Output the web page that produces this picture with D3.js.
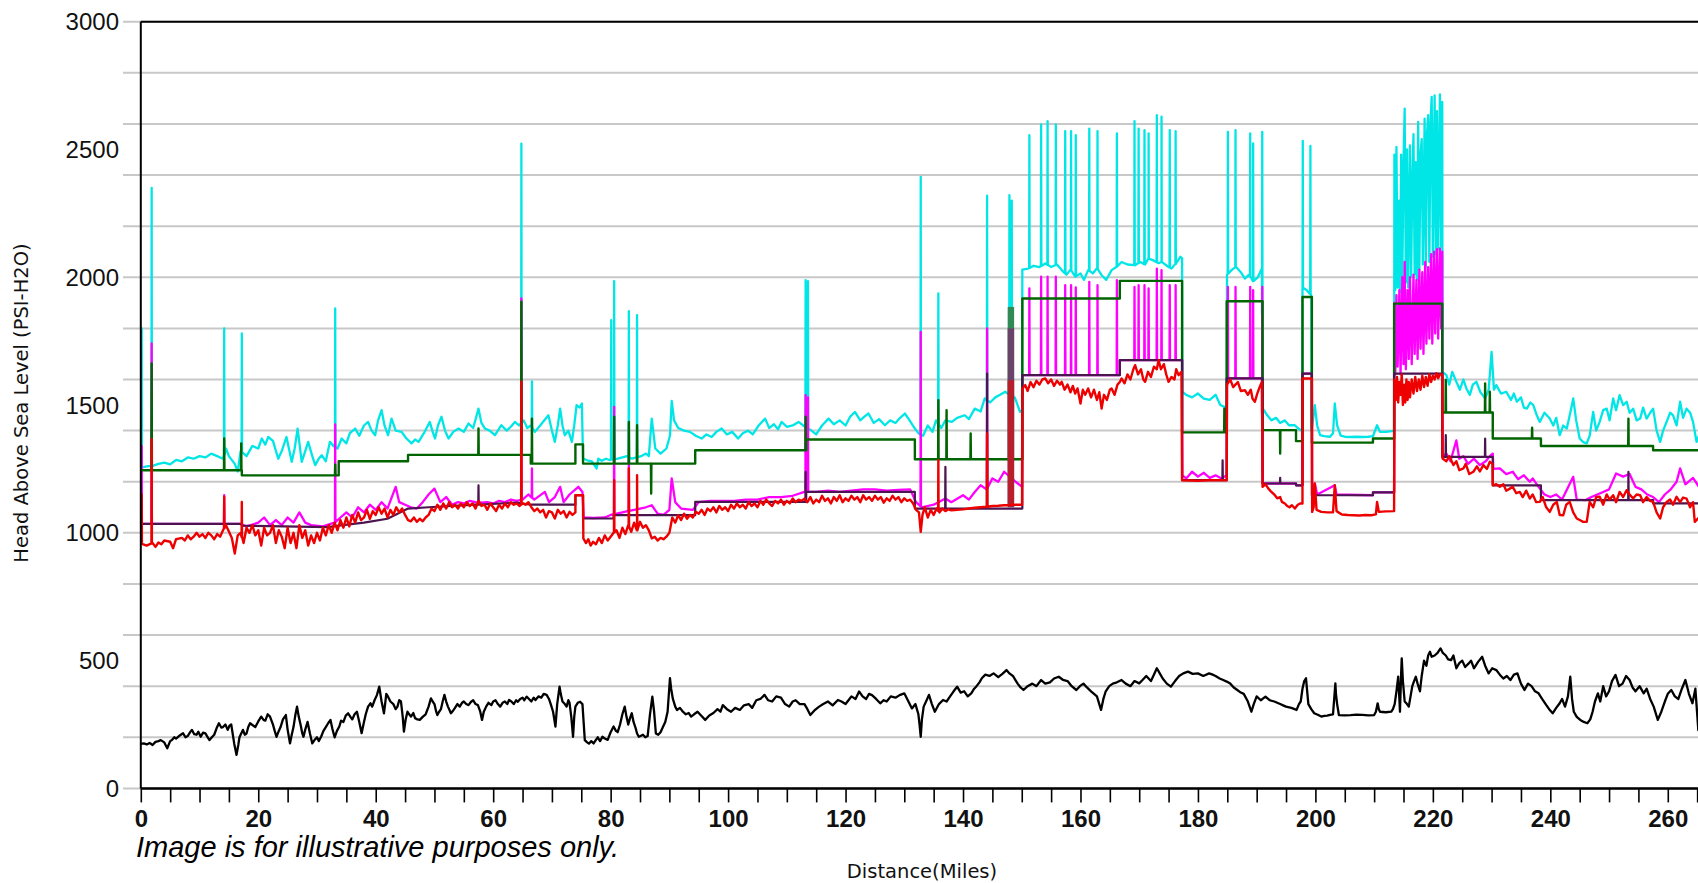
<!DOCTYPE html>
<html><head><meta charset="utf-8">
<script src="https://cdn.jsdelivr.net/npm/d3@7"></script>
<style>html,body{margin:0;padding:0;background:#fff;}svg{display:block;}</style>
</head><body>
<svg id="chart" width="1698" height="883"></svg>
<script>
// ---------------- DATA ----------------
const yGridValues = d3.range(0, 3001, 200);
const yTickLabels = [0, 500, 1000, 1500, 2000, 2500, 3000];
const xMinorTicks = d3.range(0, 276, 5);
const xTickLabels = [0, 20, 40, 60, 80, 100, 120, 140, 160, 180, 200, 220, 240, 260];

// ground elevation (black)
const elevation = [[0,174],[0.5,176],[1,172],[1.5,178],[2,170],[2.5,182],[3,185],[3.4,189],[4,180],[4.5,157],[5,185],[5.3,189],[5.7,200],[6,195],[6.5,205],[7.2,216],[7.6,200],[8,205],[8.4,220],[8.7,229],[9.1,212],[9.5,210],[9.8,222],[10.2,202],[10.6,218],[11,215],[11.4,200],[11.7,189],[12.1,200],[12.5,210],[12.9,235],[13.3,255],[13.7,238],[14,240],[14.4,250],[14.8,229],[15.1,245],[15.4,250],[15.9,176],[16.3,131],[16.6,170],[16.8,200],[17.1,215],[17.4,229],[17.7,210],[18,215],[18.3,240],[18.6,255],[19,248],[19.5,240],[20,262],[20.5,281],[20.9,268],[21.2,265],[21.6,290],[22,281],[22.3,262],[22.5,250],[22.8,225],[23.1,202],[23.5,225],[23.8,240],[24.2,270],[24.7,287],[25,230],[25.4,176],[25.7,210],[26,240],[26.3,285],[26.6,320],[26.9,280],[27.2,250],[27.5,215],[27.7,202],[28,230],[28.4,260],[28.8,215],[29.2,176],[29.6,190],[30,200],[30.3,185],[30.7,202],[31.1,225],[31.5,240],[31.9,255],[32.3,268],[32.6,235],[33,200],[33.4,225],[33.8,242],[34.1,265],[34.5,260],[34.9,285],[35.3,294],[35.7,280],[36,270],[36.4,290],[36.8,300],[37.2,260],[37.6,216],[38,260],[38.3,290],[38.7,320],[39.1,333],[39.4,320],[39.8,345],[40.2,365],[40.6,398],[41,340],[41.4,294],[41.6,330],[41.8,370],[42.1,359],[42.5,340],[43,330],[43.4,310],[43.7,320],[44,345],[44.3,340],[44.6,280],[44.8,222],[45.1,270],[45.4,300],[45.7,290],[46,281],[46.4,295],[46.7,275],[47.1,270],[47.5,268],[48,280],[48.5,290],[49,320],[49.4,352],[49.7,340],[50,330],[50.3,300],[50.5,287],[50.8,300],[51.1,310],[51.4,340],[51.7,366],[52,340],[52.3,320],[52.6,305],[52.8,294],[53.2,305],[53.5,315],[53.9,330],[54.3,320],[54.7,335],[55,340],[55.4,330],[55.8,326],[56.2,338],[56.6,345],[57,330],[57.4,326],[57.8,300],[58.1,268],[58.4,300],[58.8,320],[59.2,335],[59.7,326],[60,340],[60.4,345],[60.8,330],[61.2,320],[61.6,335],[62,340],[62.4,330],[62.7,346],[63.1,340],[63.5,330],[63.9,345],[64.2,339],[64.6,350],[65,355],[65.3,345],[65.7,359],[66.1,350],[66.5,340],[66.9,355],[67.2,346],[67.7,360],[68.2,355],[68.6,370],[69.1,366],[69.5,350],[69.8,330],[70.2,300],[70.6,242],[70.9,330],[71.3,398],[71.5,370],[71.8,340],[72.2,330],[72.5,320],[72.8,345],[73,335],[73.3,280],[73.6,202],[73.8,280],[74,320],[74.4,335],[74.8,339],[75.2,330],[75.4,260],[75.6,189],[76,180],[76.3,175],[76.7,185],[77.1,176],[77.5,190],[77.8,200],[78.2,185],[78.6,202],[79,195],[79.5,190],[80,220],[80.5,242],[80.9,225],[81.2,220],[81.6,250],[82,290],[82.4,320],[82.7,280],[83,250],[83.3,275],[83.6,294],[83.9,260],[84.2,240],[84.5,215],[84.8,202],[85.1,205],[85.5,210],[85.9,200],[86.3,205],[86.7,290],[87.1,359],[87.4,300],[87.7,215],[88.1,210],[88.5,220],[88.9,240],[89.3,260],[89.7,300],[90.1,431],[90.3,390],[90.6,350],[91,320],[91.3,307],[91.8,315],[92.3,300],[92.8,290],[93.3,295],[93.7,281],[94.2,290],[94.8,300],[95.4,285],[96.1,268],[96.8,285],[97.5,295],[98.2,310],[98.7,300],[99.1,326],[99.8,310],[100.5,300],[101.2,315],[102,307],[102.7,325],[103.5,330],[104.1,315],[104.8,345],[105.5,350],[106.2,366],[106.8,345],[107.5,340],[108.2,360],[109,355],[109.7,330],[110.4,320],[111,340],[111.5,345],[112.2,330],[113,330],[113.5,310],[114,287],[114.7,305],[115.5,320],[116.2,330],[117,340],[117.8,325],[118.7,346],[119.3,340],[120,330],[120.5,345],[121,360],[121.7,350],[122.3,379],[122.9,360],[123.5,350],[124,370],[124.5,365],[125.2,350],[125.9,333],[126.5,345],[127,340],[127.7,360],[128.5,355],[129.2,365],[130,372],[130.6,345],[131.3,313],[131.9,330],[132.4,290],[132.6,250],[132.8,202],[133,270],[133.3,320],[133.8,345],[134.2,366],[134.7,330],[135.2,300],[135.9,330],[136.6,346],[137.2,340],[137.8,360],[138.4,380],[139,398],[139.6,375],[140.2,380],[140.8,360],[141.4,372],[141.9,390],[142.3,400],[142.8,415],[143.2,431],[143.8,445],[144.5,440],[145.2,450],[146,435],[146.7,448],[147.4,463],[147.9,450],[148.5,440],[148.9,425],[149.3,410],[149.8,395],[150.3,385],[151,400],[151.8,410],[152.5,400],[153.3,424],[154,410],[154.8,415],[155.5,430],[156.3,437],[157,425],[157.8,420],[158.5,400],[159.3,385],[159.9,400],[160.5,410],[161.1,395],[161.8,380],[162.3,370],[162.8,360],[163.2,330],[163.5,307],[163.9,350],[164.3,380],[164.9,400],[165.5,410],[166.2,415],[167,424],[167.7,410],[168.5,400],[169.2,420],[170,411],[170.6,425],[171.2,440],[171.6,430],[172,420],[172.5,445],[173,470],[173.5,450],[174,430],[174.7,410],[175.4,398],[176.1,420],[176.8,440],[177.5,450],[178.3,457],[179.1,448],[180,450],[180.9,440],[181.9,450],[182.5,445],[183,440],[183.7,430],[184.3,424],[184.9,418],[185.5,410],[186.1,395],[186.7,385],[187.3,375],[187.8,370],[188.5,340],[189.1,300],[189.5,330],[190,360],[190.7,345],[191.5,359],[192.2,345],[193,340],[193.5,335],[194,330],[194.5,325],[195,320],[195.9,315],[196.8,307],[197.2,330],[197.5,340],[197.8,390],[198.1,420],[198.4,431],[198.6,380],[198.8,330],[199.3,310],[199.8,294],[200.4,288],[201,281],[201.5,284],[202,285],[202.5,288],[203,290],[203.2,350],[203.4,411],[203.5,370],[203.7,330],[204,287],[205,286],[206,287],[207,289],[208,288],[209,286],[210,287],[210.3,300],[210.6,333],[210.8,310],[211,300],[212,298],[212.9,300],[213.2,310],[213.5,330],[213.8,380],[214.1,437],[214.3,350],[214.4,300],[214.6,450],[214.7,509],[214.9,420],[215.2,340],[215.6,330],[215.9,320],[216.2,360],[216.5,400],[216.8,420],[217.1,437],[217.4,410],[217.8,380],[218.1,440],[218.5,500],[218.9,480],[219.2,520],[219.5,535],[219.8,515],[220.3,520],[220.8,530],[221.3,548],[221.7,530],[222.2,520],[222.6,505],[223.1,502],[223.5,520],[224,470],[224.5,490],[225,500],[225.5,475],[226.1,489],[226.5,500],[227,470],[227.7,495],[228.4,515],[228.9,480],[229.5,450],[230.1,470],[230.8,463],[231.4,445],[232,430],[232.6,440],[233.2,424],[233.8,445],[234.4,450],[235,410],[235.6,385],[236.2,410],[236.8,400],[237.4,380],[238,372],[238.6,350],[239.2,330],[239.8,310],[240.4,294],[241,315],[241.5,330],[242,350],[242.5,320],[243,360],[243.4,437],[243.7,350],[244,300],[244.5,280],[245.1,268],[245.7,260],[246.3,255],[246.8,270],[247.2,300],[247.6,340],[248.1,372],[248.5,340],[249,400],[249.5,360],[250,380],[250.5,420],[251.1,444],[251.7,400],[252.3,410],[252.9,440],[253.5,424],[254,395],[254.5,380],[255.2,400],[255.9,372],[256.4,390],[257,350],[257.6,320],[258.3,268],[258.9,300],[259.5,340],[260,370],[260.6,385],[261.2,360],[261.8,350],[262.4,390],[263,424],[263.6,370],[264.2,333],[264.7,390],[265.2,228],[266,240]];

// maximum head (cyan)
const headMax = [[0,1255],[1,1260],[2,1262],[3,1270],[4,1275],[5,1268],[6,1285],[7,1280],[8,1295],[9,1290],[10,1300],[11,1295],[12,1310],[13,1300],[14,1290],[14.5,1330],[15,1300],[16,1270],[16.5,1240],[17,1320],[18,1300],[19,1340],[20,1330],[20.6,1369],[21.2,1345],[21.7,1375],[22.5,1360],[23.4,1290],[24,1320],[24.8,1375],[25.7,1278],[26.2,1330],[26.7,1408],[27.4,1278],[28,1320],[28.5,1356],[29.2,1300],[29.7,1265],[30.3,1290],[30.8,1304],[31.5,1280],[32.2,1356],[32.8,1340],[33.5,1330],[34.2,1369],[35,1350],[35.6,1390],[36.5,1408],[37.2,1380],[38,1420],[38.7,1434],[39.3,1400],[39.9,1382],[40.4,1440],[41,1480],[41.5,1420],[42.1,1382],[42.7,1447],[43.4,1400],[44.4,1395],[45.2,1370],[46.1,1350],[46.7,1365],[47.3,1356],[48.2,1390],[49.2,1434],[49.7,1395],[50.1,1369],[50.6,1420],[51.2,1454],[51.8,1400],[52.4,1369],[53.2,1395],[54.1,1408],[55,1395],[55.8,1428],[56.6,1410],[57.5,1486],[58,1430],[58.6,1408],[59.4,1400],[60.3,1382],[61.4,1421],[62.3,1400],[63,1415],[63.7,1434],[64.4,1420],[65.2,1440],[65.8,1410],[66.4,1420],[67.1,1395],[68,1420],[69.4,1460],[70,1400],[70.5,1356],[71,1420],[71.4,1486],[71.8,1420],[72.2,1382],[72.8,1400],[73.4,1356],[73.8,1420],[74.2,1500],[74.7,1490],[75.1,1506],[75.3,1291],[76,1284],[76.8,1280],[77.6,1252],[77.9,1290],[78.5,1282],[79.2,1290],[79.8,1285],[81.2,1290],[82,1295],[82.8,1300],[83.6,1290],[85.2,1300],[86,1310],[86.5,1300],[87,1447],[87.6,1330],[88.5,1310],[89.5,1330],[90.1,1380],[90.4,1516],[90.8,1440],[91.5,1410],[92.5,1400],[93.5,1395],[94.5,1380],[95.5,1369],[96.3,1385],[97.2,1375],[98,1395],[98.9,1408],[99.8,1385],[100.7,1395],[101.7,1369],[102.5,1390],[103.4,1400],[104.2,1385],[105.2,1420],[106.3,1447],[107,1410],[107.8,1425],[108.5,1405],[109.1,1434],[110,1415],[111,1420],[112,1434],[112.8,1420],[114.2,1400],[115,1385],[116,1420],[117.1,1447],[118,1425],[119,1440],[120,1420],[120.8,1455],[121.6,1473],[122.5,1440],[123.2,1455],[123.9,1467],[124.8,1430],[125.7,1445],[126.7,1421],[127.6,1440],[128.5,1430],[129.3,1450],[130.1,1467],[130.9,1440],[131.8,1408],[132.4,1390],[133.2,1380],[134,1420],[134.8,1395],[135.4,1440],[136.3,1410],[137,1440],[138.1,1434],[139,1450],[140.3,1460],[141,1445],[142,1486],[143,1475],[143.7,1526],[144.6,1510],[145.5,1530],[146.3,1540],[147.2,1552],[147.6,1545],[148.8,1530],[149.3,1500],[149.7,1473],[150.05,1480],[150.1,2030],[151.1,2034],[152,2045],[153,2040],[154,2054],[155,2040],[156,2050],[156.8,2028],[157.6,2010],[158.3,2030],[159.1,2002],[160,2015],[160.6,1990],[161.3,2028],[162.1,2015],[162.8,2035],[163.6,2008],[164.4,1990],[165.3,2028],[166.1,2040],[167,2060],[168,2050],[169.3,2047],[170.2,2060],[171,2050],[171.6,2073],[172.5,2065],[173.3,2055],[173.8,2060],[174.7,2045],[175.5,2034],[176.3,2055],[177,2080],[177.3,2075],[177.35,1552],[178,1540],[179,1530],[180,1545],[181,1525],[182,1520],[183,1540],[183.8,1500],[184.5,1493],[184.9,1495],[184.95,2010],[185.8,2030],[186.5,2040],[187.3,2020],[188,1995],[188.7,2010],[189.4,1985],[190.2,2000],[190.9,2035],[191.05,1486],[191.8,1460],[192.5,1440],[193.3,1450],[194,1430],[194.8,1440],[195.5,1421],[196.5,1421],[197,1410],[197.6,1400],[197.8,1400],[197.8,1960],[198.5,1950],[199.3,1930],[199.35,1400],[199.9,1500],[200.3,1420],[200.8,1382],[201.5,1378],[202.5,1376],[203,1390],[203.3,1506],[203.7,1420],[204.3,1380],[205,1376],[206,1375],[207,1376],[208,1375],[209,1376],[209.8,1378],[210.5,1421],[211,1395],[212,1395],[213,1398],[213.4,1400],[213.45,2480],[213.6,1950],[213.8,2510],[214,1960],[214.2,2300],[214.4,1940],[214.6,2480],[214.8,1990],[215,2450],[215.2,2660],[215.4,1980],[215.6,2500],[215.8,1960],[216.1,2516],[216.3,2000],[216.5,2380],[216.7,2560],[216.9,2010],[217.1,2450],[217.3,1990],[217.5,2608],[217.7,2030],[217.9,2480],[218.1,2540],[218.3,2050],[218.6,2621],[218.8,2040],[219,2560],[219.2,2634],[219.4,2060],[219.6,2600],[219.8,2706],[220,2080],[220.3,2712],[220.5,2090],[220.7,2650],[220.9,2110],[221.2,2716],[221.4,2120],[221.6,2686],[221.65,1630],[222.3,1617],[222.8,1580],[223.3,1630],[224,1591],[224.6,1560],[225.2,1600],[225.7,1565],[226.3,1540],[226.8,1580],[227.4,1591],[228.1,1550],[228.9,1526],[229.5,1560],[230,1708],[230.4,1560],[230.8,1578],[231.6,1545],[232.5,1552],[233.3,1520],[233.8,1545],[234.3,1513],[235,1530],[235.5,1490],[236,1486],[236.6,1510],[237.1,1500],[237.7,1460],[238.2,1434],[239,1470],[239.9,1447],[240.5,1420],[241,1450],[241.6,1382],[242.2,1420],[242.8,1408],[243.4,1470],[243.9,1526],[244.4,1440],[245,1369],[245.6,1355],[246.2,1350],[246.7,1380],[247.3,1473],[247.8,1400],[248.4,1434],[249,1480],[249.6,1486],[250.1,1440],[250.7,1526],[251.2,1480],[251.8,1539],[252.4,1500],[253,1513],[253.5,1470],[254.1,1486],[254.7,1440],[255.3,1447],[255.8,1490],[256.4,1447],[257,1470],[257.5,1486],[258.1,1400],[258.7,1356],[259.2,1400],[259.8,1434],[260.4,1470],[260.9,1460],[261.5,1420],[262.1,1513],[262.6,1450],[263.2,1486],[263.8,1470],[264.3,1434],[264.9,1356],[265.3,1380],[266,1400]];
const headMaxSpikes = [[0.15,1800],[1.85,2350],[14.2,1800],[17.2,1780],[33.1,1878],[64.8,2523],[66.6,1593],[80.1,1832],[80.6,1985],[83.1,1867],[84.5,1852],[113.2,1989],[113.6,1985],[132.8,2393],[135.8,1937],[144.1,2319],[147.9,2321],[148.3,2300],[151.3,2556],[153.3,2598],[154.4,2611],[155.8,2598],[157.4,2572],[158.4,2572],[159.2,2556],[161.5,2582],[162.9,2572],[166.2,2563],[169.2,2611],[169.9,2582],[170.9,2576],[171.6,2563],[173,2634],[173.8,2628],[175.2,2576],[176.2,2572],[185.1,2569],[186.4,2576],[188.9,2563],[189.4,2524],[190.95,2569],[197.85,2534],[199.15,2514]];

// surge head (magenta)
const headSurge = [[0,1035],[17,1035],[18,1025],[20,1040],[21,1060],[22,1030],[23,1050],[24,1030],[25,1060],[26,1040],[27,1080],[28,1040],[29,1030],[31,1025],[33,1040],[34,1060],[35,1080],[36,1060],[37,1100],[38,1080],[39,1110],[40,1090],[41,1120],[42,1095],[43.4,1180],[44,1120],[45,1110],[46,1100],[47,1095],[48,1120],[49,1150],[50,1173],[51,1120],[52,1140],[53,1110],[54,1120],[55,1115],[56,1125],[57,1120],[58,1118],[59,1120],[60,1115],[61,1125],[62,1120],[63,1130],[64,1125],[65,1130],[66,1150],[67,1130],[68.8,1160],[69.5,1120],[70.5,1140],[71.4,1180],[72,1120],[73,1150],[74.5,1180],[75.2,1160],[75.4,1060],[77,1058],[79,1060],[80,1070],[82,1080],[84,1090],[86,1100],[87,1108],[88,1075],[89,1070],[90,1090],[90.4,1213],[91,1120],[92,1095],[94,1090],[95,1120],[97,1125],[99,1125],[101,1125],[103,1130],[105,1130],[107,1140],[109,1140],[111,1145],[113,1160],[115,1160],[117,1165],[119,1160],[121,1165],[123,1170],[125,1170],[127,1165],[129,1168],[131,1170],[132,1120],[133,1100],[135,1110],[137,1134],[138,1120],[140,1147],[141,1130],[142,1160],[143,1186],[144,1170],[145,1213],[146,1200],[147,1239],[148,1220],[149,1199],[150.05,1180],[150.1,1617],[166.7,1617],[166.7,1676],[177.3,1676],[177.35,1225],[178,1213],[179,1239],[180,1220],[181,1235],[182,1215],[183,1225],[184,1213],[184.9,1225],[184.95,1604],[190.9,1604],[191.05,1193],[196.7,1193],[196.7,1186],[197.8,1186],[197.8,1623],[199.4,1623],[199.45,1147],[199.9,1193],[200.3,1150],[203.3,1186],[203.6,1150],[209.8,1147],[209.8,1158],[213.4,1158],[213.45,1900],[213.6,1620],[213.8,1930],[214,1650],[214.3,1950],[214.5,1620],[214.8,2000],[215,1660],[215.2,2060],[215.4,1640],[215.7,1950],[215.9,1680],[216.1,2000],[216.4,1660],[216.7,2010],[216.9,1700],[217.2,1990],[217.4,1680],[217.7,2030],[217.9,1720],[218.2,2020],[218.4,1700],[218.7,2060],[218.9,1740],[219.2,2040],[219.4,1760],[219.7,2090],[219.9,1740],[220.2,2100],[220.4,1780],[220.7,2110],[220.9,1760],[221.2,2113],[221.4,1800],[221.6,2100],[221.65,1300],[222.3,1310],[223,1280],[224,1362],[224.5,1290],[225.2,1300],[226,1270],[227,1290],[228,1265],[229,1280],[229.7,1300],[230.2,1310],[230.3,1250],[231.4,1252],[232.5,1230],[233.6,1239],[234.5,1210],[235.5,1225],[236.5,1200],[237,1213],[238,1180],[239,1150],[240,1140],[241,1150],[242,1130],[243.9,1219],[244.5,1130],[246,1128],[247,1140],[248,1150],[249,1160],[250,1170],[251.2,1232],[252.4,1220],[253.5,1230],[254.5,1180],[255.5,1170],[256.5,1150],[257.5,1140],[258.5,1120],[259.5,1150],[260.5,1170],[261.5,1200],[262.1,1252],[263,1190],[264.3,1215],[265.3,1180],[266,1170]];
const headSurgeSpikes = [[0.15,1340],[1.85,1741],[14.2,1147],[33.1,1424],[64.8,1917],[66.6,1252],[80.6,1493],[83.1,1291],[113.2,1539],[113.6,1530],[132.8,1786],[144.1,1800],[147.9,1800],[151.3,1956],[153.3,2002],[154.4,2002],[155.8,2002],[157.4,1969],[158.4,1969],[159.2,1960],[161.5,1982],[162.9,1969],[166.2,1989],[169.2,1962],[169.9,1969],[170.9,1969],[171.6,1956],[173,2034],[173.8,2028],[175.2,1969],[176.2,1969],[185.1,1962],[186.4,1962],[188.9,1962],[189.4,1950],[190.95,1962]];

// MAOP head (dark green, stepped)
const headMaop = [[0,1245],[17.2,1245],[17.2,1225],[33.7,1225],[33.7,1280],[45.5,1280],[45.5,1305],[66.4,1305],[66.4,1271],[74,1271],[74,1346],[75.3,1346],[75.3,1271],[94.4,1271],[94.4,1323],[113.3,1323],[113.3,1365],[131.8,1365],[131.8,1288],[150.1,1288],[150.1,1917],[166.7,1917],[166.7,1986],[177.3,1986],[177.3,1393],[184.9,1393],[184.9,1906],[191,1906],[191,1402],[196.7,1402],[196.7,1359],[197.8,1359],[197.8,1923],[199.4,1923],[199.4,1353],[209.8,1353],[209.8,1369],[213.4,1369],[213.4,1897],[221.6,1897],[221.6,1471],[230.2,1471],[230.2,1369],[238.4,1369],[238.4,1340],[257.5,1340],[257.5,1323],[266,1323]];
const headMaopSpikes = [[1.85,1663],[14.2,1369],[17.1,1350],[33.1,1267],[57.5,1408],[64.8,1904],[66.6,1447],[80.6,1454],[83.1,1434],[84.5,1421],[86.9,1154],[113.2,1454],[135.8,1519],[137.2,1480],[141.3,1389],[184.5,1486],[194,1310],[222.2,1598],[228.9,1585],[229.7,1552],[236.9,1411],[253.3,1447]];

// steady-state head (dark purple)
const headSteady = [[0,1035],[17.2,1035],[17.2,1028],[31.9,1022],[33.7,1028],[38,1040],[42,1055],[45.5,1095],[49,1100],[57,1110],[64,1118],[66.4,1110],[74,1110],[74,1147],[75.3,1147],[75.3,1056],[80.5,1056],[80.5,1069],[94.4,1069],[94.4,1121],[113.3,1121],[113.3,1160],[131.8,1160],[131.8,1095],[150.1,1095],[150.1,1617],[166.7,1617],[166.7,1676],[177.3,1676],[177.3,1206],[184.9,1206],[184.9,1604],[191,1604],[191,1193],[196.7,1193],[196.7,1186],[197.8,1186],[197.8,1623],[199.4,1623],[199.4,1147],[209.8,1147],[209.8,1158],[213.4,1158],[213.4,1623],[221.6,1623],[221.6,1297],[230.2,1297],[230.2,1186],[238.4,1186],[238.4,1128],[257.5,1128],[257.5,1115],[266,1115]];
const headSteadySpikes = [[57.5,1186],[113.2,1239],[137,1258],[144.1,1623],[184.2,1284],[194,1215],[222.2,1382],[228.9,1369],[253.3,1239]];

// minimum head (red)
const headMin = [[0,958],[1,950],[2,960],[2.5,945],[3,962],[3.5,955],[4,970],[5,965],[5.5,940],[6,975],[7,980],[7.5,970],[8,990],[8.5,975],[9,985],[9.5,1000],[10,985],[10.5,995],[11,980],[11.5,1000],[12,990],[12.5,975],[13,995],[13.5,985],[14,1010],[14.5,1030],[15,1005],[15.5,980],[16,919],[16.5,990],[17,1000],[17.5,960],[18,1020],[18.5,1000],[19,1030],[19.5,990],[20,1010],[20.5,950],[21,1020],[21.5,990],[22,1000],[22.5,1030],[23,960],[23.5,1010],[24,985],[24.5,940],[25,1020],[25.5,960],[26,1000],[26.5,940],[27,1030],[27.5,980],[28,1010],[28.5,950],[29,990],[29.5,960],[30,1000],[30.5,970],[31,1020],[31.5,990],[32,1030],[32.5,1000],[33,1040],[33.5,1010],[34,1050],[34.5,1020],[35,1060],[35.5,1025],[36,1070],[36.5,1040],[37,1080],[37.5,1050],[38,1060],[38.5,1090],[39,1055],[39.5,1085],[40,1070],[40.5,1100],[41,1075],[41.5,1095],[42,1060],[42.5,1090],[43,1070],[43.5,1100],[44,1080],[44.5,1095],[45,1070],[45.5,1050],[46,1045],[46.5,1060],[47,1043],[47.5,1055],[48,1045],[48.5,1060],[49,1070],[49.5,1095],[50,1085],[50.5,1110],[51,1090],[51.5,1115],[52,1095],[52.5,1120],[53,1100],[53.5,1110],[54,1095],[54.5,1115],[55,1100],[55.5,1120],[56,1105],[56.5,1115],[57,1095],[57.5,1125],[58,1105],[58.5,1110],[59,1090],[59.5,1115],[60,1100],[60.5,1085],[61,1110],[61.5,1095],[62,1115],[62.5,1100],[63,1120],[63.5,1110],[64,1115],[64.5,1105],[65,1115],[65.5,1110],[66,1120],[66.5,1100],[67,1085],[67.5,1095],[68,1080],[68.5,1090],[69,1060],[69.5,1085],[70,1080],[70.5,1056],[71,1090],[71.5,1075],[72,1085],[72.5,1060],[73,1082],[73.5,1070],[74,1080],[74,1147],[75.3,1147],[75.35,978],[75.8,960],[76.2,975],[76.6,950],[77,965],[77.5,955],[78,980],[78.5,960],[79,990],[79.5,970],[80,985],[80.5,1000],[81,1010],[81.5,980],[82,1020],[82.5,995],[83,1030],[83.5,1004],[84,1040],[84.5,1010],[85,1043],[85.5,1020],[86,1030],[86.5,1010],[87,978],[87.5,985],[88,970],[88.5,980],[89,975],[89.5,985],[90,1000],[90.5,1060],[91,1040],[91.5,1069],[92,1050],[92.5,1075],[93,1055],[93.5,1070],[94,1060],[94.5,1082],[95,1075],[95.5,1090],[96,1070],[96.5,1095],[97,1085],[97.5,1100],[98,1080],[98.5,1105],[99,1090],[99.5,1100],[100,1085],[100.5,1110],[101,1095],[101.5,1115],[102,1100],[102.5,1110],[103,1095],[103.5,1120],[104,1105],[104.5,1115],[105,1100],[105.5,1125],[106,1110],[106.5,1130],[107,1115],[107.5,1105],[108,1125],[108.5,1115],[109,1130],[109.5,1110],[110,1125],[110.5,1115],[111,1134],[111.5,1120],[112,1130],[112.5,1125],[113,1134],[113.5,1120],[114,1140],[114.5,1115],[115,1130],[115.5,1120],[116,1145],[116.5,1125],[117,1135],[117.5,1115],[118,1140],[118.5,1125],[119,1147],[119.5,1120],[120,1135],[120.5,1125],[121,1145],[121.5,1130],[122,1140],[122.5,1120],[123,1147],[123.5,1130],[124,1140],[124.5,1125],[125,1145],[125.5,1130],[126,1140],[126.5,1118],[127,1135],[127.5,1125],[128,1145],[128.5,1130],[129,1140],[129.5,1120],[130,1135],[130.5,1125],[131,1130],[131.5,1115],[132,1090],[132.5,1080],[132.8,1004],[133.1,1070],[133.5,1100],[134,1060],[134.5,1090],[135,1070],[135.5,1095],[136,1080],[136.5,1095],[137,1085],[137.5,1092],[138,1088],[139,1090],[140,1092],[141,1095],[142,1098],[143,1100],[144,1102],[145,1105],[146,1106],[147,1108],[148,1108],[149,1110],[150.05,1110],[150.1,1565],[150.6,1578],[151,1555],[151.5,1590],[152,1570],[152.5,1595],[153,1580],[153.5,1600],[154,1604],[154.5,1585],[155,1600],[155.5,1575],[156,1595],[156.5,1580],[156.8,1591],[157.3,1560],[157.8,1580],[158.3,1550],[158.7,1575],[159.1,1545],[159.5,1565],[160,1506],[160.4,1560],[160.8,1540],[161.3,1565],[161.8,1530],[162.3,1560],[162.8,1520],[163.2,1550],[163.6,1486],[164,1540],[164.5,1520],[165,1560],[165.3,1565],[165.8,1540],[166.3,1580],[166.7,1590],[167,1604],[167.5,1585],[168,1620],[168.5,1600],[169,1640],[169.3,1656],[169.8,1620],[170.3,1640],[170.7,1600],[171,1591],[171.5,1630],[172,1610],[172.5,1650],[173,1640],[173.3,1676],[173.7,1640],[174.2,1660],[174.6,1620],[175,1591],[175.5,1610],[176,1600],[176.3,1640],[176.7,1617],[177.2,1630],[177.3,1206],[180,1204],[182,1206],[184.9,1206],[184.95,1580],[185.5,1600],[186,1570],[186.3,1578],[186.8,1590],[187.3,1555],[188,1558],[188.5,1540],[189,1560],[189.3,1525],[189.7,1513],[190.1,1545],[190.5,1570],[190.9,1591],[191,1180],[191.5,1190],[192,1173],[192.5,1160],[193,1150],[193.5,1135],[194,1140],[194.3,1121],[194.8,1115],[195.2,1105],[195.6,1100],[196,1108],[196.5,1095],[197,1110],[197.4,1115],[197.8,1115],[197.8,1604],[199.4,1604],[199.45,1082],[199.7,1100],[199.9,1193],[200.2,1090],[201,1082],[202,1080],[203,1080],[203.3,1186],[203.6,1085],[204.5,1072],[205.5,1070],[206.5,1069],[207.5,1068],[208.5,1070],[209.5,1069],[210.3,1072],[210.5,1121],[210.8,1082],[212,1084],[213.4,1085],[213.45,1600],[213.7,1520],[213.9,1610],[214.1,1510],[214.3,1590],[214.5,1540],[214.7,1620],[214.9,1500],[215.1,1580],[215.3,1510],[215.5,1600],[215.7,1520],[215.9,1590],[216.1,1530],[216.4,1600],[216.7,1545],[217,1610],[217.3,1555],[217.6,1600],[217.9,1560],[218.2,1615],[218.5,1570],[218.8,1610],[219.1,1575],[219.4,1620],[219.7,1590],[220,1615],[220.3,1600],[220.6,1625],[220.9,1605],[221.2,1620],[221.6,1620],[221.65,1291],[222.3,1280],[222.8,1300],[223.5,1265],[224,1280],[224.5,1245],[225.2,1252],[225.6,1270],[226.2,1230],[226.9,1239],[227.5,1260],[228,1240],[228.6,1265],[229.2,1250],[229.7,1278],[230.15,1270],[230.2,1186],[230.8,1190],[231.4,1180],[232,1190],[232.5,1165],[233.1,1173],[233.6,1180],[234.2,1155],[234.8,1160],[235.3,1140],[235.9,1165],[236.5,1134],[237,1150],[237.6,1120],[238.2,1121],[238.7,1140],[239.3,1100],[239.9,1082],[240.5,1110],[241.1,1121],[241.6,1070],[242.2,1069],[242.7,1110],[243.3,1121],[243.9,1080],[244.5,1056],[245,1050],[245.6,1043],[246.2,1043],[246.7,1121],[247.3,1100],[247.8,1140],[248.4,1141],[249,1110],[249.6,1150],[250.1,1130],[250.7,1147],[251.2,1120],[251.8,1160],[252.4,1140],[253,1167],[253.5,1150],[254.1,1135],[254.7,1150],[255.3,1147],[255.8,1120],[256.4,1140],[257,1125],[257.5,1121],[258.1,1080],[258.7,1056],[259.2,1100],[259.8,1121],[260.4,1130],[260.9,1110],[261.5,1141],[262.1,1120],[262.6,1138],[263.2,1134],[263.8,1100],[264.3,1120],[264.6,1043],[265.3,1060],[266,1080]];
const headMinSpikes = [[0.15,1150],[1.85,1366],[14.2,1141],[17.2,1121],[64.8,1591],[80.6,1206],[83.1,1252],[84.5,1226],[135.8,1284],[144.1,1389]];

// short blocks where several traces overlap densely: [from, to, bottom, top]
const blockMaop   = [[147.6, 148.7, 1288, 1884]];
const blockSteady = [[147.6, 148.7, 1100, 1800]];
const blockMin    = [[147.6, 148.7, 1108, 1597]];

// ---------------- CHART ----------------
const W = 1698, H = 883;
const plotLeft = 140.8, plotTop = 21.7, plotBottom = 788.4;
const svg = d3.select('#chart');

const x = d3.scaleLinear().domain([0, 275]).range([plotLeft, plotLeft + 275 * 5.873]);
const y = d3.scaleLinear().domain([0, 3000]).range([plotBottom, plotTop]);

svg.append('rect').attr('width', W).attr('height', H).attr('fill', '#fff');

svg.append('defs').append('clipPath').attr('id', 'plotclip')
  .append('rect').attr('x', plotLeft).attr('y', plotTop - 1).attr('width', W - plotLeft).attr('height', plotBottom - plotTop + 1);

// gridlines
svg.append('g').selectAll('line').data(yGridValues).join('line')
  .attr('x1', 123).attr('x2', W)
  .attr('y1', d => y(d)).attr('y2', d => y(d))
  .attr('stroke', '#c8c8c8').attr('stroke-width', 2);

function interp(series, m) {
  for (let i = 1; i < series.length; i++) {
    if (series[i][0] >= m) {
      const [m0, v0] = series[i - 1], [m1, v1] = series[i];
      if (m1 === m0) return v1;
      return v0 + (v1 - v0) * (m - m0) / (m1 - m0);
    }
  }
  return series[series.length - 1][1];
}
function withSpikes(base, spikes) {
  const pts = base.map(p => p.slice());
  spikes.forEach(([s, p]) => {
    const b = interp(base, s);
    pts.push([s - 0.04, b], [s, p], [s + 0.04, b]);
  });
  return pts.map((p, i) => [p, i]).sort((a, b) => a[0][0] - b[0][0] || a[1] - b[1]).map(d => d[0]);
}

const line = d3.line().x(d => x(d[0])).y(d => y(d[1]));
const plot = svg.append('g').attr('clip-path', 'url(#plotclip)');

function drawSeries(data, color, width) {
  plot.append('path').datum(data)
    .attr('d', line).attr('fill', 'none')
    .attr('stroke', color).attr('stroke-width', width)
    .attr('stroke-linejoin', 'round');
}
function drawBlocks(blocks, color) {
  plot.append('g').selectAll('rect').data(blocks).join('rect')
    .attr('x', d => x(d[0])).attr('width', d => x(d[1]) - x(d[0]))
    .attr('y', d => y(d[3])).attr('height', d => y(d[2]) - y(d[3]))
    .attr('fill', color);
}

drawSeries(elevation, '#000000', 2.3);
drawSeries(withSpikes(headMax, headMaxSpikes), '#00e6e6', 2.3);
drawSeries(withSpikes(headSurge, headSurgeSpikes), '#ff00ff', 2.3);
drawBlocks(blockMaop, '#2f8a55');
drawSeries(withSpikes(headMaop, headMaopSpikes), '#006400', 2.4);
drawBlocks(blockSteady, '#6a4468');
drawSeries(withSpikes(headSteady, headSteadySpikes), '#4b1550', 2.2);
drawBlocks(blockMin, '#b81e2c');
drawSeries(withSpikes(headMin, headMinSpikes), '#ee0000', 2.4);

// frame: left axis, top border, bottom axis
svg.append('line').attr('x1', plotLeft).attr('x2', plotLeft).attr('y1', plotTop).attr('y2', plotBottom)
  .attr('stroke', '#000').attr('stroke-width', 2);
svg.append('line').attr('x1', plotLeft).attr('x2', W).attr('y1', plotTop).attr('y2', plotTop)
  .attr('stroke', '#000').attr('stroke-width', 2);

const xAxis = d3.axisBottom(x).tickValues(xMinorTicks).tickSize(14).tickPadding(8)
  .tickFormat(d => xTickLabels.includes(d) ? String(d) : '');
const gx = svg.append('g').attr('transform', `translate(0,${plotBottom})`).call(xAxis);
gx.select('.domain').attr('stroke', '#000').attr('stroke-width', 2.5).attr('d', `M${plotLeft},0H${W}`);
gx.selectAll('.tick line').attr('stroke', '#000').attr('stroke-width', 1.6);
gx.selectAll('.tick text').attr('fill', '#111').attr('font-family', 'Liberation Sans, Arial, sans-serif')
  .attr('font-size', 24).attr('font-weight', 'bold');

// y tick labels
svg.append('g').selectAll('text').data(yTickLabels).join('text')
  .attr('x', 119).attr('y', d => y(d)).attr('dy', '0.36em')
  .attr('text-anchor', 'end').attr('fill', '#111')
  .attr('font-family', 'Liberation Sans, Arial, sans-serif').attr('font-size', 24)
  .text(d => d);

// axis titles
svg.append('text').attr('transform', 'translate(28,403) rotate(-90)')
  .attr('text-anchor', 'middle').attr('fill', '#111')
  .attr('font-family', 'DejaVu Sans, sans-serif').attr('font-size', 19.5)
  .text('Head Above Sea Level (PSI-H2O)');
svg.append('text').attr('x', 922).attr('y', 878)
  .attr('text-anchor', 'middle').attr('fill', '#111')
  .attr('font-family', 'DejaVu Sans, sans-serif').attr('font-size', 19.5)
  .text('Distance(Miles)');
svg.append('text').attr('x', 136).attr('y', 857)
  .attr('fill', '#000').attr('font-style', 'italic')
  .attr('font-family', 'Liberation Sans, Arial, sans-serif').attr('font-size', 29)
  .text('Image is for illustrative purposes only.');
</script>
</body></html>
